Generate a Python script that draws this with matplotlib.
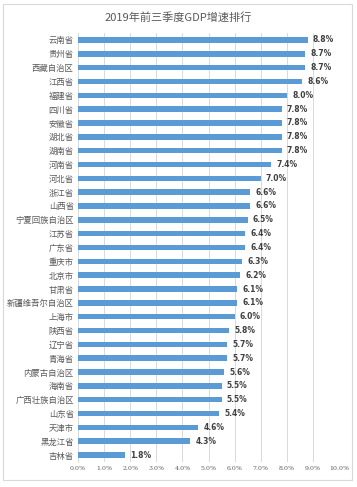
import matplotlib
matplotlib.use("Agg")
import matplotlib.pyplot as plt
from matplotlib.patches import Rectangle

plt.rcParams['font.family'] = ['Noto Sans CJK SC', 'DejaVu Sans']

provinces = ["云南省", "贵州省", "西藏自治区", "江西省", "福建省", "四川省", "安徽省", "湖北省",
             "湖南省", "河南省", "河北省", "浙江省", "山西省", "宁夏回族自治区", "江苏省", "广东省",
             "重庆市", "北京市", "甘肃省", "新疆维吾尔自治区", "上海市", "陕西省", "辽宁省", "青海省",
             "内蒙古自治区", "海南省", "广西壮族自治区", "山东省", "天津市", "黑龙江省", "吉林省"]
growth = [8.8, 8.7, 8.7, 8.6, 8.0, 7.8, 7.8, 7.8, 7.8, 7.4, 7.0, 6.6, 6.6, 6.5, 6.4, 6.4,
          6.3, 6.2, 6.1, 6.1, 6.0, 5.8, 5.7, 5.7, 5.6, 5.5, 5.5, 5.4, 4.6, 4.3, 1.8]
xticks = [0, 1, 2, 3, 4, 5, 6, 7, 8, 9, 10]
title = "2019年前三季度GDP增速排行"

fig = plt.figure(figsize=(3.57, 4.87), dpi=100)
fig.patch.set_facecolor('white')
fig.add_artist(Rectangle((3/357, 1-480/487), 349/357, 476/487, transform=fig.transFigure,
                         fill=False, edgecolor='#D9D9D9', linewidth=0.8))

ax = fig.add_axes([78/357, 1-462/487, 261/357, 429/487])
ypos = list(range(len(provinces)))
ax.barh(ypos, growth, height=0.4, color='#5B9BD5', zorder=3)
for y, v in zip(ypos, growth):
    ax.text(v + 0.2, y, f"{v:.1f}%", va='center', ha='left', fontsize=5.5,
            fontweight='bold', color='#404040', family=['DejaVu Sans'])
ax.set_xlim(0, 10)
ax.set_ylim(len(provinces) - 0.5, -0.5)
ax.set_yticks(ypos)
ax.set_yticklabels(provinces, fontsize=6, color='#595959')
ax.set_xticks(xticks)
ax.set_xticklabels([f"{t:.1f}%" for t in xticks], fontsize=4.5, color='#595959',
                   family=['DejaVu Serif'])
ax.tick_params(axis='both', length=0, pad=3)
ax.grid(axis='x', color='#D9D9D9', linewidth=0.7, zorder=0)
for s in ['top', 'right', 'bottom']:
    ax.spines[s].set_visible(False)
ax.spines['left'].set_color('#D9D9D9')
ax.spines['left'].set_linewidth(0.7)
fig.text(0.5, 1-17/487, title, ha='center', va='center', fontsize=8, color='#595959')
fig.savefig("out.png", dpi=100)
